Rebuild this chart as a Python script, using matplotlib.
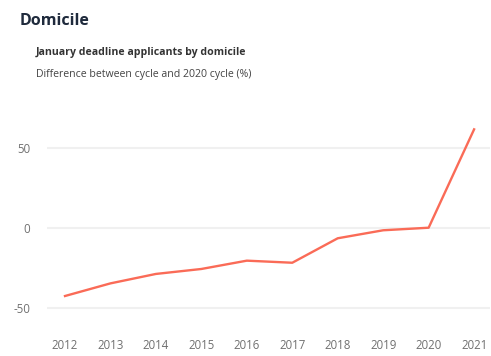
import numpy as np
import matplotlib.pyplot as plt

# Values.
years = [2012, 2013, 2014, 2015, 2016, 2017, 2018, 2019, 2020, 2021]
diff_pct = [-42.7, -34.8, -28.9, -25.8, -20.6, -21.9, -6.6, -1.6, 0.0, 61.5]
yticks = [-50, 0, 50]

plt.rcParams['font.family'] = ['Open Sans', 'DejaVu Sans']
plt.rcParams['axes.unicode_minus'] = False

fig = plt.figure(figsize=(4.91, 3.56), dpi=100)
W, H = 491, 356
# axes placed in pixel terms
left, right, top, bottom = 47, 490, 110, 320
ax = fig.add_axes([left / W, 1 - bottom / H, (right - left) / W, (bottom - top) / H])

ax.plot(years, diff_pct, color='#fa6b57', lw=1.7)

ax.set_xlim(2011.604, 2021.35)
ax.set_ylim(-57.7, 73.6)
ax.set_xticks(years)
ax.set_yticks(yticks)
ax.yaxis.grid(True, color='#f0f0f0', lw=1.5)
ax.set_axisbelow(True)
for s in ax.spines.values():
    s.set_visible(False)
ax.tick_params(length=0, labelsize=8.3, labelcolor='#707070')
ax.tick_params(axis='x', pad=14)
ax.tick_params(axis='y', pad=12)

fig.text(20 / W, 1 - 21 / H, 'Domicile', fontsize=11.5, fontweight='bold',
         color='#1f2a3c', va='center', ha='left')
fig.text(36 / W, 1 - 52 / H, 'January deadline applicants by domicile', fontsize=7.6,
         fontweight='bold', color='#333333', va='center', ha='left')
fig.text(36 / W, 1 - 74 / H, 'Difference between cycle and 2020 cycle (%)', fontsize=7.6,
         color='#444444', va='center', ha='left')

fig.savefig('out.png', dpi=100)
